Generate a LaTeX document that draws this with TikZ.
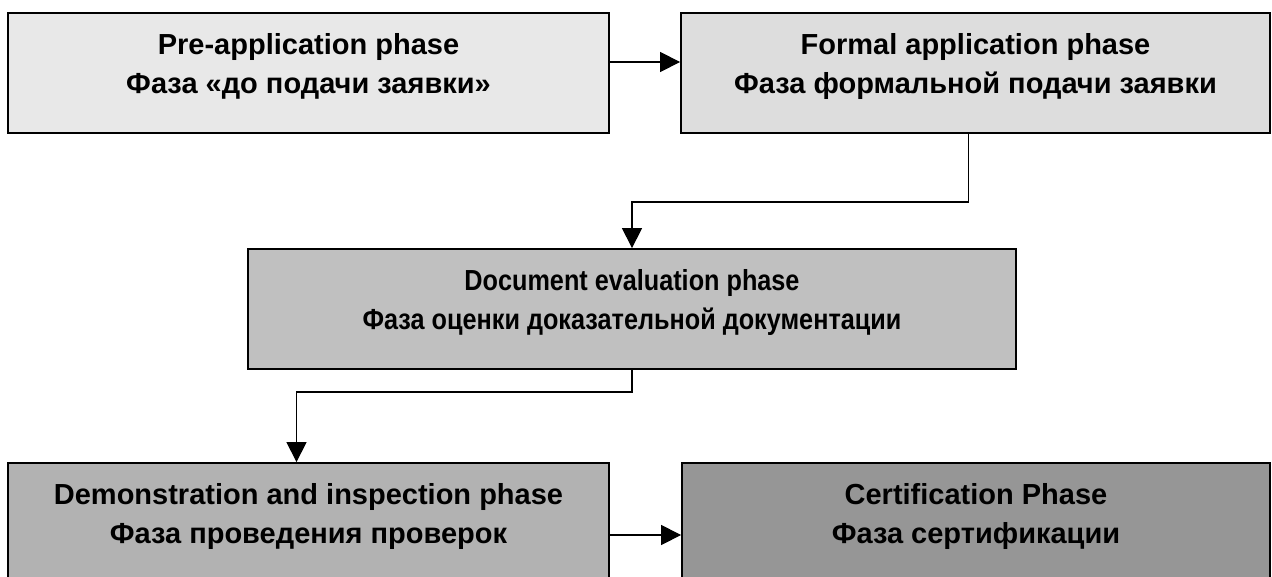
\documentclass[tikz,border=0pt]{standalone}
\usepackage{fontspec}
\setmainfont{Liberation Sans}
\usepackage{xcolor}
\usetikzlibrary{positioning, arrows.meta}

\definecolor{phaseA}{HTML}{E8E8E8}
\definecolor{phaseB}{HTML}{DDDDDD}
\definecolor{phaseC}{HTML}{C0C0C0}
\definecolor{phaseD}{HTML}{B2B2B2}
\definecolor{phaseE}{HTML}{969696}
\newcommand{\narrowline}[1]{\scalebox{0.87}[1]{#1}}

\begin{document}
\begin{tikzpicture}[x=1pt,y=-1pt]
						\tikzstyle{phase}=[rectangle,draw=black,line width=1.8pt,minimum height=120pt,align=center,
							font=\fontsize{29}{39}\selectfont\bfseries,text depth=20pt]
						\tikzstyle{link}=[black,line width=1.2pt,-{Triangle[length=20pt,width=20pt]}]
						\useasboundingbox (0,0) rectangle (1272,576);
						\node[phase,fill=phaseA,minimum width=601pt](pre) at (308.5,73) {Pre-application phase\\Фаза «до подачи заявки»};
						\node[phase,fill=phaseB,minimum width=589pt](formal) at (975.5,73) {Formal application phase\\Фаза формальной подачи заявки};
						\node[phase,fill=phaseC,minimum width=768pt](docev) at (632,309) {\narrowline{Document evaluation phase}\\\narrowline{Фаза оценки доказательной документации}};
						\node[phase,fill=phaseD,minimum width=601pt](demo) at (308.5,523) {Demonstration and inspection phase\\Фаза проведения проверок};
						\node[phase,fill=phaseE,minimum width=588pt](cert) at (976,523) {Certification Phase\\Фаза сертификации};
						\draw[link]([yshift=11pt]pre.east) -- ([yshift=11pt]formal.west);
						\draw[link]([xshift=-7pt]formal.south) -- ++(0,68) -| (docev.north);
						\draw[link](docev.south) -- ++(0,22) -| ([xshift=-12pt]demo.north);
						\draw[link]([yshift=-12pt]demo.east) -- ([yshift=-12pt]cert.west);
					\end{tikzpicture}
\end{document}
